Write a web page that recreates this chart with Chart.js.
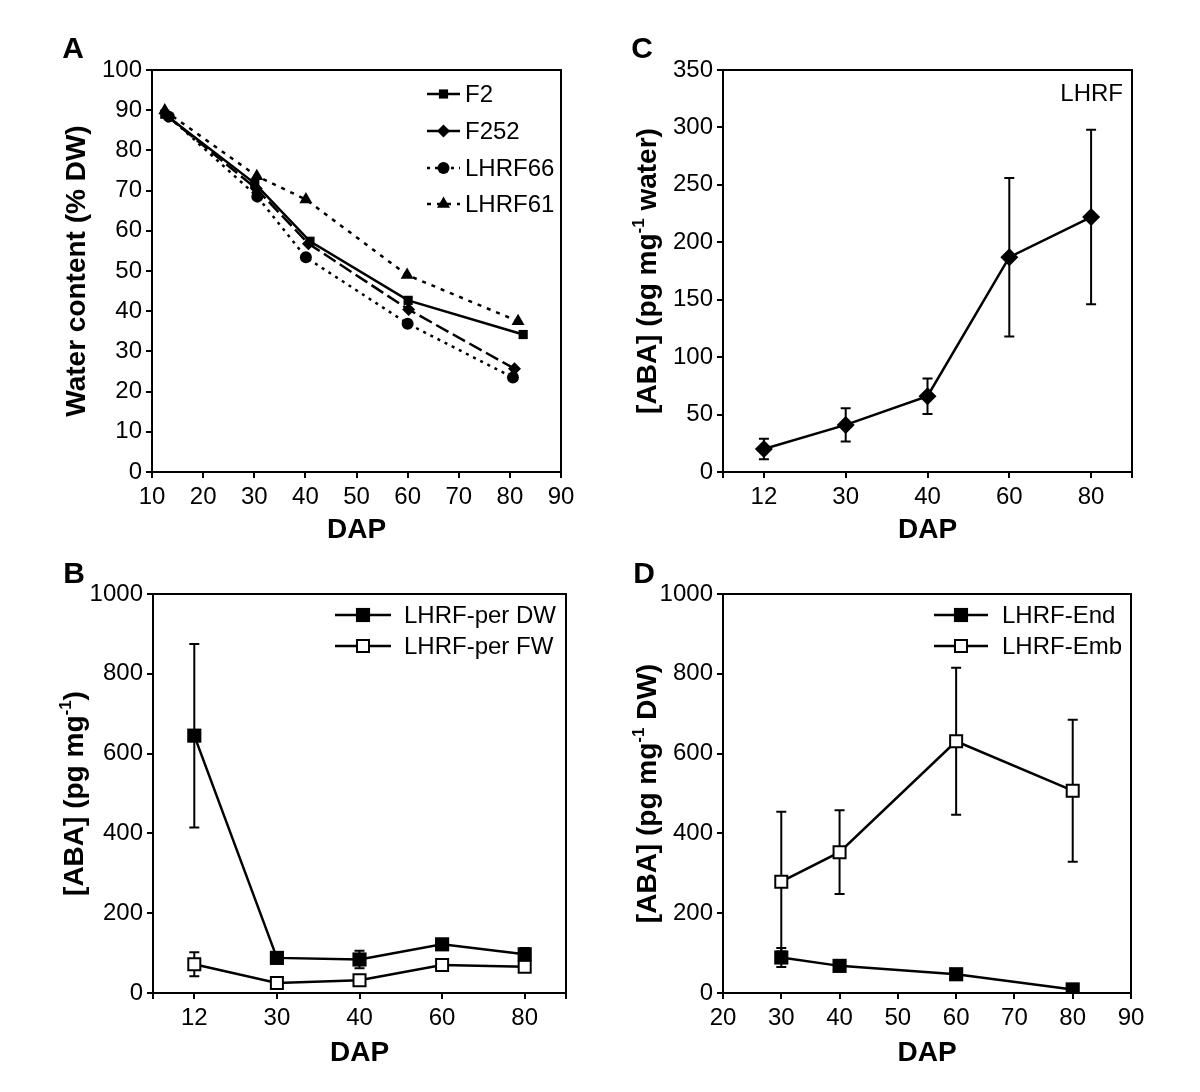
<!DOCTYPE html>
<html>
<head>
<meta charset="utf-8">
<script src="https://cdn.jsdelivr.net/npm/chart.js"></script>
<style>
  body { margin: 0; background: #fff; }
  #wrap { position: relative; width: 1200px; height: 1092px; }
  .panel { position: absolute; width: 600px; height: 546px; }
</style>
</head>
<body>
<div id="wrap">
  <div class="panel" style="left:0;top:0"><canvas id="chartA" width="600" height="546"></canvas></div>
  <div class="panel" style="left:600px;top:0"><canvas id="chartC" width="600" height="546"></canvas></div>
  <div class="panel" style="left:0;top:546px"><canvas id="chartB" width="600" height="546"></canvas></div>
  <div class="panel" style="left:600px;top:546px"><canvas id="chartD" width="600" height="546"></canvas></div>
</div>
<script>
// ---- A: water content (% DW) ----
const f2X = [12.5, 30.1, 40.9, 60.1, 82.6];
const f2Y = [89, 71.8, 57.4, 42.7, 34.2];
const f252X = [13, 30.4, 40.6, 60.2, 80.9];
const f252Y = [88.5, 70.5, 56.8, 40.4, 25.7];
const lhrf66X = [13.3, 30.6, 40.1, 60, 80.6];
const lhrf66Y = [88.4, 68.5, 53.4, 36.9, 23.5];
const lhrf61X = [12.5, 30.5, 40.1, 59.9, 81.6];
const lhrf61Y = [89.9, 73.6, 67.8, 49, 37.5];

// ---- C: ABA per mg water ----
const dapLabels = ['12', '30', '40', '60', '80'];
const abaWater = [20, 41, 66, 187, 222];
const abaWaterErr = [9, 14.5, 15.5, 69, 76];

// ---- B: ABA per DW / FW ----
const abaPerDW = [645, 88, 84, 122, 97];
const abaPerDWErr = [230, 0, 22, 0, 16];
const abaPerFW = [72, 25, 32, 70, 66];
const abaPerFWErr = [30, 0, 0, 0, 0];

// ---- D: endosperm / embryo ----
const tissueDAP = [30, 40, 60, 80];
const abaEnd = [89, 68, 47, 9];
const abaEndErr = [24, 0, 0, 0];
const abaEmb = [279, 353, 631, 507];
const abaEmbErr = [175, 105, 184, 178];

const FONT = "'Liberation Sans', Arial, sans-serif";
Chart.defaults.font.family = FONT;
Chart.defaults.color = '#000';

function xy(xs, ys) {
  return xs.map((x, i) => ({ x: x, y: ys[i] }));
}

function marker(ctx, style, x, y, r, fill, lw) {
  ctx.beginPath();
  if (style === 'rect') {
    const s = r * Math.SQRT1_2;
    ctx.rect(x - s, y - s, 2 * s, 2 * s);
  } else if (style === 'rectRot') {
    ctx.moveTo(x - r, y); ctx.lineTo(x, y - r); ctx.lineTo(x + r, y); ctx.lineTo(x, y + r);
    ctx.closePath();
  } else if (style === 'triangle') {
    for (let k = 0; k < 3; k++) {
      const a = k * 2 * Math.PI / 3;
      const px = x + Math.sin(a) * r, py = y - Math.cos(a) * r;
      if (k === 0) ctx.moveTo(px, py); else ctx.lineTo(px, py);
    }
    ctx.closePath();
  } else {
    ctx.arc(x, y, r, 0, Math.PI * 2);
  }
  ctx.fillStyle = fill;
  ctx.fill();
  if (lw) { ctx.lineWidth = lw; ctx.strokeStyle = '#000'; ctx.stroke(); }
}

// titles, box, legend, error bars
const panelText = {
  id: 'panelText',
  beforeDatasetsDraw(chart) {
    const ctx = chart.ctx;
    const ys = chart.scales.y;
    ctx.save();
    ctx.strokeStyle = '#000';
    ctx.lineWidth = 2;
    chart.data.datasets.forEach((ds, i) => {
      if (!ds.errorBars) return;
      const meta = chart.getDatasetMeta(i);
      meta.data.forEach((el, j) => {
        const e = ds.errorBars[j];
        if (!e) return;
        const d = ds.data[j];
        const v = typeof d === 'object' ? d.y : d;
        const y1 = ys.getPixelForValue(v + e), y2 = ys.getPixelForValue(v - e);
        ctx.beginPath();
        ctx.moveTo(el.x, y1); ctx.lineTo(el.x, y2);
        ctx.moveTo(el.x - 5, y1); ctx.lineTo(el.x + 5, y1);
        ctx.moveTo(el.x - 5, y2); ctx.lineTo(el.x + 5, y2);
        ctx.stroke();
      });
    });
    ctx.restore();
  },
  afterDraw(chart, args, opts) {
    const ctx = chart.ctx, a = chart.chartArea;
    ctx.save();
    ctx.strokeStyle = '#000';
    ctx.lineWidth = 2;
    ctx.strokeRect(a.left, a.top, a.right - a.left, a.bottom - a.top);
    ctx.beginPath();
    ctx.moveTo(a.right, a.bottom); ctx.lineTo(a.right, a.bottom + 6);
    ctx.moveTo(a.left, a.bottom); ctx.lineTo(a.left, a.bottom + 6);
    ctx.stroke();

    ctx.fillStyle = '#000';
    ctx.textAlign = 'center';
    ctx.textBaseline = 'middle';
    ctx.font = 'bold 30px ' + FONT;
    ctx.fillText(opts.letter, opts.letterPos[0], opts.letterPos[1]);
    ctx.font = 'bold 28px ' + FONT;
    ctx.fillText('DAP', (a.left + a.right) / 2, opts.xTitleY);

    // rotated y title with superscript parts
    ctx.save();
    ctx.translate(opts.yTitleX, (a.top + a.bottom) / 2);
    ctx.rotate(-Math.PI / 2);
    const main = 'bold 28px ' + FONT, sup = 'bold 17px ' + FONT;
    let total = 0;
    opts.yTitle.forEach(p => { ctx.font = p.sup ? sup : main; total += ctx.measureText(p.t).width; });
    let cx = -total / 2;
    ctx.textAlign = 'left';
    opts.yTitle.forEach(p => {
      ctx.font = p.sup ? sup : main;
      ctx.fillText(p.t, cx, p.sup ? -9 : 0);
      cx += ctx.measureText(p.t).width;
    });
    ctx.restore();

    if (opts.legend) {
      const lg = opts.legend;
      ctx.font = '24px ' + FONT;
      ctx.textAlign = 'left';
      lg.rows.forEach(row => {
        const ds = chart.data.datasets[row.ds];
        ctx.save();
        ctx.lineWidth = ds.borderWidth;
        ctx.strokeStyle = '#000';
        ctx.setLineDash(ds.borderDash || []);
        ctx.beginPath();
        ctx.moveTo(lg.x1, row.y); ctx.lineTo(lg.x2, row.y);
        ctx.stroke();
        ctx.setLineDash([]);
        marker(ctx, ds.pointStyle, (lg.x1 + lg.x2) / 2, row.y, ds.pointRadius, ds.backgroundColor, ds.pointBorderWidth);
        ctx.restore();
        ctx.fillStyle = '#000';
        ctx.fillText(ds.label, lg.textX, row.y + 1);
      });
    }
    if (opts.note) {
      ctx.font = '24px ' + FONT;
      ctx.textAlign = 'right';
      ctx.fillText(opts.note.text, opts.note.x, opts.note.y);
    }
    ctx.restore();
  }
};

function axis(extra, box, dir) {
  const tickOpts = {
    color: '#000', font: { size: 24 }, padding: dir === 'x' ? 5 : 4,
    callback: function (v, i, ticks) { return this.getLabelForValue ? String(this.getLabelForValue(v)).replace(/,/g, '') : v; }
  };
  return Object.assign({}, extra, {
    ticks: Object.assign(tickOpts, extra.ticks || {}),
    grid: { drawOnChartArea: false, drawTicks: true, tickLength: 6, color: '#000', lineWidth: 2 },
    border: { color: '#000', width: 2 },
    afterFit(sc) {
      if (dir === 'x') sc.height = 546 - box.bottom; else sc.width = box.left;
    }
  });
}

function makeChart(id, box, xs, ysc, datasets, labels, textOpts) {
  return new Chart(document.getElementById(id), {
    type: 'line',
    data: { labels: labels, datasets: datasets },
    options: {
      responsive: false,
      animation: false,
      layout: { padding: { left: 0, top: box.top, right: 600 - box.right, bottom: 0 } },
      scales: { x: axis(xs, box, 'x'), y: axis(ysc, box, 'y') },
      plugins: { legend: { display: false }, tooltip: { enabled: false }, panelText: textOpts }
    },
    plugins: [panelText]
  });
}

function series(label, data, style, r, dash, fill, pbw, err) {
  return {
    label: label, data: data,
    borderColor: '#000', borderWidth: 2.5, borderDash: dash,
    pointStyle: style, pointRadius: r, pointHoverRadius: r,
    backgroundColor: fill, pointBackgroundColor: fill,
    pointBorderColor: '#000', pointBorderWidth: pbw,
    tension: 0, errorBars: err
  };
}

// A
makeChart('chartA', { left: 152, right: 561, top: 70, bottom: 472 },
  { type: 'linear', min: 10, max: 90, ticks: { stepSize: 10 } },
  { type: 'linear', min: 0, max: 100, ticks: { stepSize: 10 } },
  [
    series('F2', xy(f2X, f2Y), 'rect', 6.5, [], '#000', 0),
    series('F252', xy(f252X, f252Y), 'rectRot', 6.5, [14, 5], '#000', 0),
    series('LHRF66', xy(lhrf66X, lhrf66Y), 'circle', 6, [3, 5], '#000', 0),
    series('LHRF61', xy(lhrf61X, lhrf61Y), 'triangle', 7.5, [4, 6], '#000', 0)
  ], undefined,
  {
    letter: 'A', letterPos: [73, 50], xTitleY: 530, yTitleX: 77,
    yTitle: [{ t: 'Water content (% DW)' }],
    legend: { x1: 427, x2: 460, textX: 465, rows: [{ ds: 0, y: 94 }, { ds: 1, y: 131 }, { ds: 2, y: 168 }, { ds: 3, y: 204 }] }
  });

// C
makeChart('chartC', { left: 123, right: 532, top: 70, bottom: 472 },
  { type: 'category', offset: true },
  { type: 'linear', min: 0, max: 350, ticks: { stepSize: 50 } },
  [series('LHRF', abaWater, 'rectRot', 9, [], '#000', 0, abaWaterErr)],
  dapLabels,
  {
    letter: 'C', letterPos: [42, 50], xTitleY: 530, yTitleX: 48,
    yTitle: [{ t: '[ABA] (pg mg' }, { t: '-1', sup: true }, { t: ' water)' }],
    note: { text: 'LHRF', x: 523, y: 94 }
  });

// B
makeChart('chartB', { left: 153, right: 566, top: 48, bottom: 447 },
  { type: 'category', offset: true },
  { type: 'linear', min: 0, max: 1000, ticks: { stepSize: 200 } },
  [
    series('LHRF-per DW', abaPerDW, 'rect', 10, [], '#000', 0, abaPerDWErr),
    series('LHRF-per FW', abaPerFW, 'rect', 8.5, [], '#fff', 2, abaPerFWErr)
  ],
  dapLabels,
  {
    letter: 'B', letterPos: [74, 29], xTitleY: 507, yTitleX: 75,
    yTitle: [{ t: '[ABA] (pg mg' }, { t: '-1', sup: true }, { t: ')' }],
    legend: { x1: 335, x2: 391, textX: 404, rows: [{ ds: 0, y: 69 }, { ds: 1, y: 100 }] }
  });

// D
makeChart('chartD', { left: 123, right: 531, top: 48, bottom: 447 },
  { type: 'linear', min: 20, max: 90, ticks: { stepSize: 10 } },
  { type: 'linear', min: 0, max: 1000, ticks: { stepSize: 200 } },
  [
    series('LHRF-End', xy(tissueDAP, abaEnd), 'rect', 10, [], '#000', 0, abaEndErr),
    series('LHRF-Emb', xy(tissueDAP, abaEmb), 'rect', 8.5, [], '#fff', 2, abaEmbErr)
  ], undefined,
  {
    letter: 'D', letterPos: [44, 29], xTitleY: 507, yTitleX: 48,
    yTitle: [{ t: '[ABA] (pg mg' }, { t: '-1', sup: true }, { t: ' DW)' }],
    legend: { x1: 334, x2: 388, textX: 402, rows: [{ ds: 0, y: 69 }, { ds: 1, y: 100 }] }
  });
</script>
</body>
</html>
